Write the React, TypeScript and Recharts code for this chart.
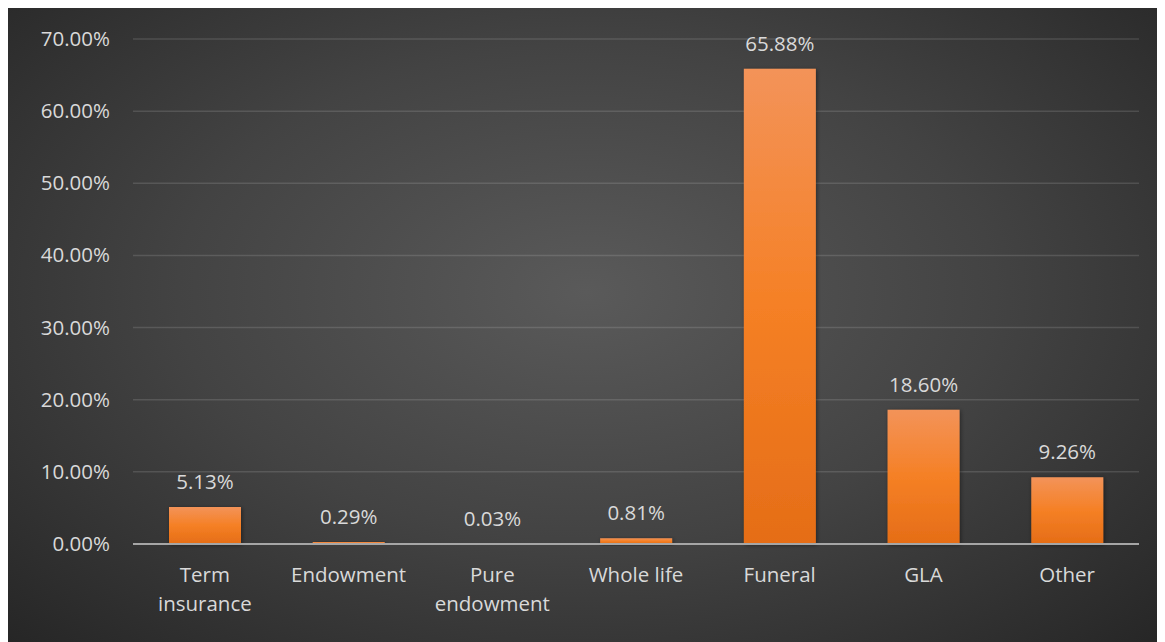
import React from 'react';
import { BarChart, Bar, XAxis, YAxis, CartesianGrid, LabelList } from 'recharts';

const categories = ['Term insurance', 'Endowment', 'Pure endowment', 'Whole life', 'Funeral', 'GLA', 'Other'];
const shares = [5.13, 0.29, 0.03, 0.81, 65.88, 18.6, 9.26];
const yTicks = [0, 10, 20, 30, 40, 50, 60, 70];

const data = categories.map((name, i) => ({ name, value: shares[i] }));

const FONT = '"Open Sans", "Noto Sans", sans-serif';
const TEXT = '#d9d9d9';
const FS = 20.5;

const XTick = (props: any) => {
  const { x, y, payload } = props;
  const s: string = payload.value;
  const lines = s.length > 10 ? s.split(' ') : [s];
  return (
    <g>
      {lines.map((l, i) => (
        <text key={i} x={x} y={y + 30 + i * 29} textAnchor="middle" fill={TEXT} fontSize={FS} fontFamily={FONT}>
          {l}
        </text>
      ))}
    </g>
  );
};

const YTick = (props: any) => {
  const { y, payload } = props;
  return (
    <text x={102} y={y + 7} textAnchor="end" fill={TEXT} fontSize={FS} fontFamily={FONT}>
      {payload.value.toFixed(2) + '%'}
    </text>
  );
};

export default function App() {
  return (
    <div
      style={{
        width: 1157,
        height: 636,
        marginTop: -2,
        background: 'radial-gradient(ellipse at 50% 45%, #5a5a5a 0%, #434343 50%, #262626 100%)',
      }}
    >
      <BarChart width={1157} height={636} data={data} margin={{ top: 33, right: 26, left: 0, bottom: 0 }} barCategoryGap="25%">
        <defs>
          <linearGradient id="barGrad" x1="0" y1="0" x2="0" y2="1">
            <stop offset="0%" stopColor="#f39359" />
            <stop offset="50%" stopColor="#f58025" />
            <stop offset="100%" stopColor="#e56d17" />
          </linearGradient>
          <filter id="shadow" x="-20%" y="-20%" width="140%" height="140%">
            <feDropShadow dx="1" dy="1" stdDeviation="2" floodColor="#000" floodOpacity="0.45" />
          </filter>
        </defs>
        <CartesianGrid vertical={false} stroke="rgba(255,255,255,0.13)" strokeWidth={1.5} />
        <XAxis
          dataKey="name"
          height={98}
          interval={0}
          tickLine={false}
          axisLine={{ stroke: '#a6a6a6', strokeWidth: 2 }}
          tick={<XTick />}
        />
        <YAxis
          width={125}
          domain={[0, 70]}
          ticks={yTicks}
          axisLine={false}
          tickLine={false}
          tick={<YTick />}
        />
        <Bar dataKey="value" fill="url(#barGrad)" barSize={72} isAnimationActive={false} style={{ filter: 'url(#shadow)' }}>
          <LabelList
            dataKey="value"
            position="top"
            offset={18}
            fill={TEXT}
            fontSize={FS}
            fontFamily={FONT}
            formatter={(v: any) => Number(v).toFixed(2) + '%'}
          />
        </Bar>
      </BarChart>
    </div>
  );
}
